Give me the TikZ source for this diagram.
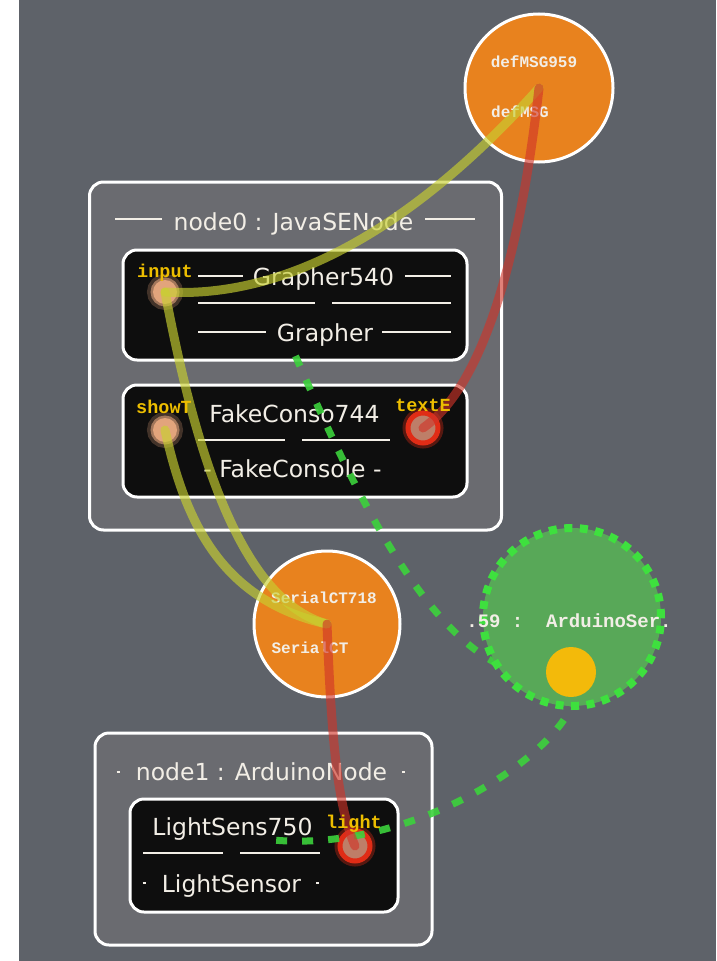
\documentclass[tikz,border=0pt]{standalone}
\usepackage{fontspec}
\setmainfont{DejaVu Sans}
\newfontfamily\monob{Liberation Mono}
\definecolor{bg}{HTML}{5E6269}
\definecolor{nodefill}{HTML}{6A6B70}
\definecolor{comp}{HTML}{0E0E0E}
\definecolor{chan}{HTML}{E8821E}
\definecolor{grpfill}{HTML}{58A858}
\definecolor{grpdot}{HTML}{3EE03E}
\definecolor{dotyel}{HTML}{F3BA0A}
\definecolor{wire}{HTML}{C8D030}
\definecolor{wirered}{HTML}{D03428}
\definecolor{bind}{HTML}{3CD23C}
\definecolor{portlab}{HTML}{EDBE00}
\definecolor{peach}{HTML}{E2A47C}
\definecolor{portcore}{HTML}{BE7E68}
\definecolor{portring}{HTML}{E02C16}
\definecolor{inktext}{HTML}{F2EEE6}
\begin{document}
\begin{tikzpicture}[x=1pt,y=-1pt,
  nodebox/.style={draw=white, line width=3pt, fill=nodefill, rounded corners=14pt, inner sep=0pt},
  compbox/.style={draw=white, line width=3pt, fill=comp, rounded corners=14pt, inner sep=0pt},
  ttl/.style={anchor=base, text=inktext, font=\fontsize{23.5}{27}\selectfont, inner sep=0pt},
  deco/.style={draw=inktext, line width=2.5pt},
  chanc/.style={circle, draw=white, line width=3pt, fill=chan, inner sep=0pt},
  instlab/.style={anchor=base, text=inktext, font=\monob\bfseries\fontsize{16}{18}\selectfont, inner sep=0pt},
  portlabel/.style={anchor=base, text=portlab, font=\monob\bfseries\fontsize{18.5}{20}\selectfont, inner sep=0pt},
  portsoft/.style={circle, minimum size=24pt, inner sep=0pt, fill=peach, draw=peach, line width=5pt, draw opacity=0.6,
    preaction={draw=peach, line width=12pt, draw opacity=0.25}},
  porthot/.style={circle, minimum size=30pt, inner sep=0pt, fill=portcore, draw=portring, line width=5pt,
    preaction={draw=portring, line width=11pt, draw opacity=0.35}},
  grp/.style={circle, fill=grpfill, draw=grpdot, line width=8pt, dash pattern=on 8pt off 7.5pt, inner sep=0pt},
  grplab/.style={anchor=base, text=inktext, font=\monob\bfseries\fontsize{19}{21}\selectfont, inner sep=0pt},
  yeldot/.style={circle, fill=dotyel, inner sep=0pt, minimum size=50pt},
  wireg/.style={draw=wire, line width=9pt, draw opacity=0.65, line cap=round},
  wirer/.style={draw=wirered, line width=9pt, draw opacity=0.62, line cap=round},
  bindl/.style={draw=bind, line width=7pt, draw opacity=0.9, dash pattern=on 11pt off 15pt}]
\useasboundingbox (0,0) rectangle (716,961);
\fill[white] (0,0) rectangle (19,961);
\fill[bg] (19,0) rectangle (716,961);

% ---- node0 : JavaSENode and its components
\node[nodebox, minimum width=412pt, minimum height=348pt] (node0) at (295.5,356) {};
\node[ttl] (t0) at (293.5,230) {node0 : JavaSENode};
\draw[deco] (115,219) -- (162,219) (425,219) -- (475,219);

\node[compbox, minimum width=344pt, minimum height=110pt] (grapher) at (295,305) {};
\node[ttl] (g1) at (323.5,285) {Grapher540};
\node[ttl] (g2) at (325,341) {Grapher};
\draw[deco] (198,276) -- (243,276) (405,276) -- (451,276)
            (198,303) -- (315,303) (332,303) -- (451,303)
            (198,332) -- (266,332) (382,332) -- (451,332);

\node[compbox, minimum width=344pt, minimum height=112pt] (fcons) at (295,441) {};
\node[ttl] (f1) at (294.5,422) {FakeConso744};
\node[ttl] (f2) at (292.5,477) {- FakeConsole -};
\draw[deco] (198,440) -- (285,440) (302,440) -- (390,440);

% ---- node1 : ArduinoNode
\node[nodebox, minimum width=337pt, minimum height=212pt] (node1) at (263.5,839) {};
\node[ttl] (t1) at (261.5,780) {node1 : ArduinoNode};
\draw[deco] (116.5,772) -- (119.5,772) (402,772) -- (405,772);
\node[compbox, minimum width=268pt, minimum height=113pt] (lsens) at (264,855.5) {};
\node[ttl] (l1) at (232.5,835) {LightSens750};
\node[ttl] (l2) at (231.5,892) {LightSensor};
\draw[deco] (143,853) -- (223,853) (240,853) -- (320,853)
            (142.5,883) -- (145.5,883) (316,883) -- (319,883);

% ---- ports
\node[portsoft] (input) at (165,292) {};
\node[portsoft] (showT) at (165,430) {};
\node[porthot] (textE) at (423,428) {};
\node[porthot] (light) at (355,846) {};

% ---- channels
\node[chanc, minimum size=148pt] (msg) at (539,88) {};
\node[instlab] (msgname) at (534,67) {defMSG959};
\node[instlab] (msgtype) at (520,117) {defMSG};
\node[chanc, minimum size=146pt] (ser) at (327,624) {};
\node[instlab] (sername) at (324,603) {SerialCT718};
\node[instlab] (sertype) at (310,653) {SerialCT};

% ---- group bindings, then the group on top of them
\coordinate (gport) at (571,672);
\draw[bindl] (node0.center) .. controls (355,491) and (450,708) .. (gport);
\draw[bindl] (gport) .. controls (610,720) and (430,860) .. (node1.center);
\node[grp, minimum size=178pt] (grp) at (572,617) {};
\node[grplab] (grpname) at (569,627) {.59 :~~ArduinoSer.};
\node[yeldot] (dot) at (gport) {};

% ---- port-to-channel wires
\draw[wireg] (input.center) .. controls (300,300) and (430,210) .. (msg.center);
\draw[wireg] (input.center) .. controls (195,450) and (240,600) .. (ser.center);
\draw[wireg] (showT.center) .. controls (185,520) and (220,600) .. (ser.center);
\draw[wirer] (msg.center) .. controls (515,300) and (470,395) .. (textE.center);
\draw[wirer] (ser.center) .. controls (332,760) and (340,810) .. (light.center);

% ---- port labels
\node[portlabel] (inputlab) at (165,277) {input};
\node[portlabel] (showTlab) at (164,413) {showT};
\node[portlabel] (textElab) at (423,411) {textE};
\node[portlabel] (lightlab) at (354,828) {light};
\end{tikzpicture}
\end{document}
